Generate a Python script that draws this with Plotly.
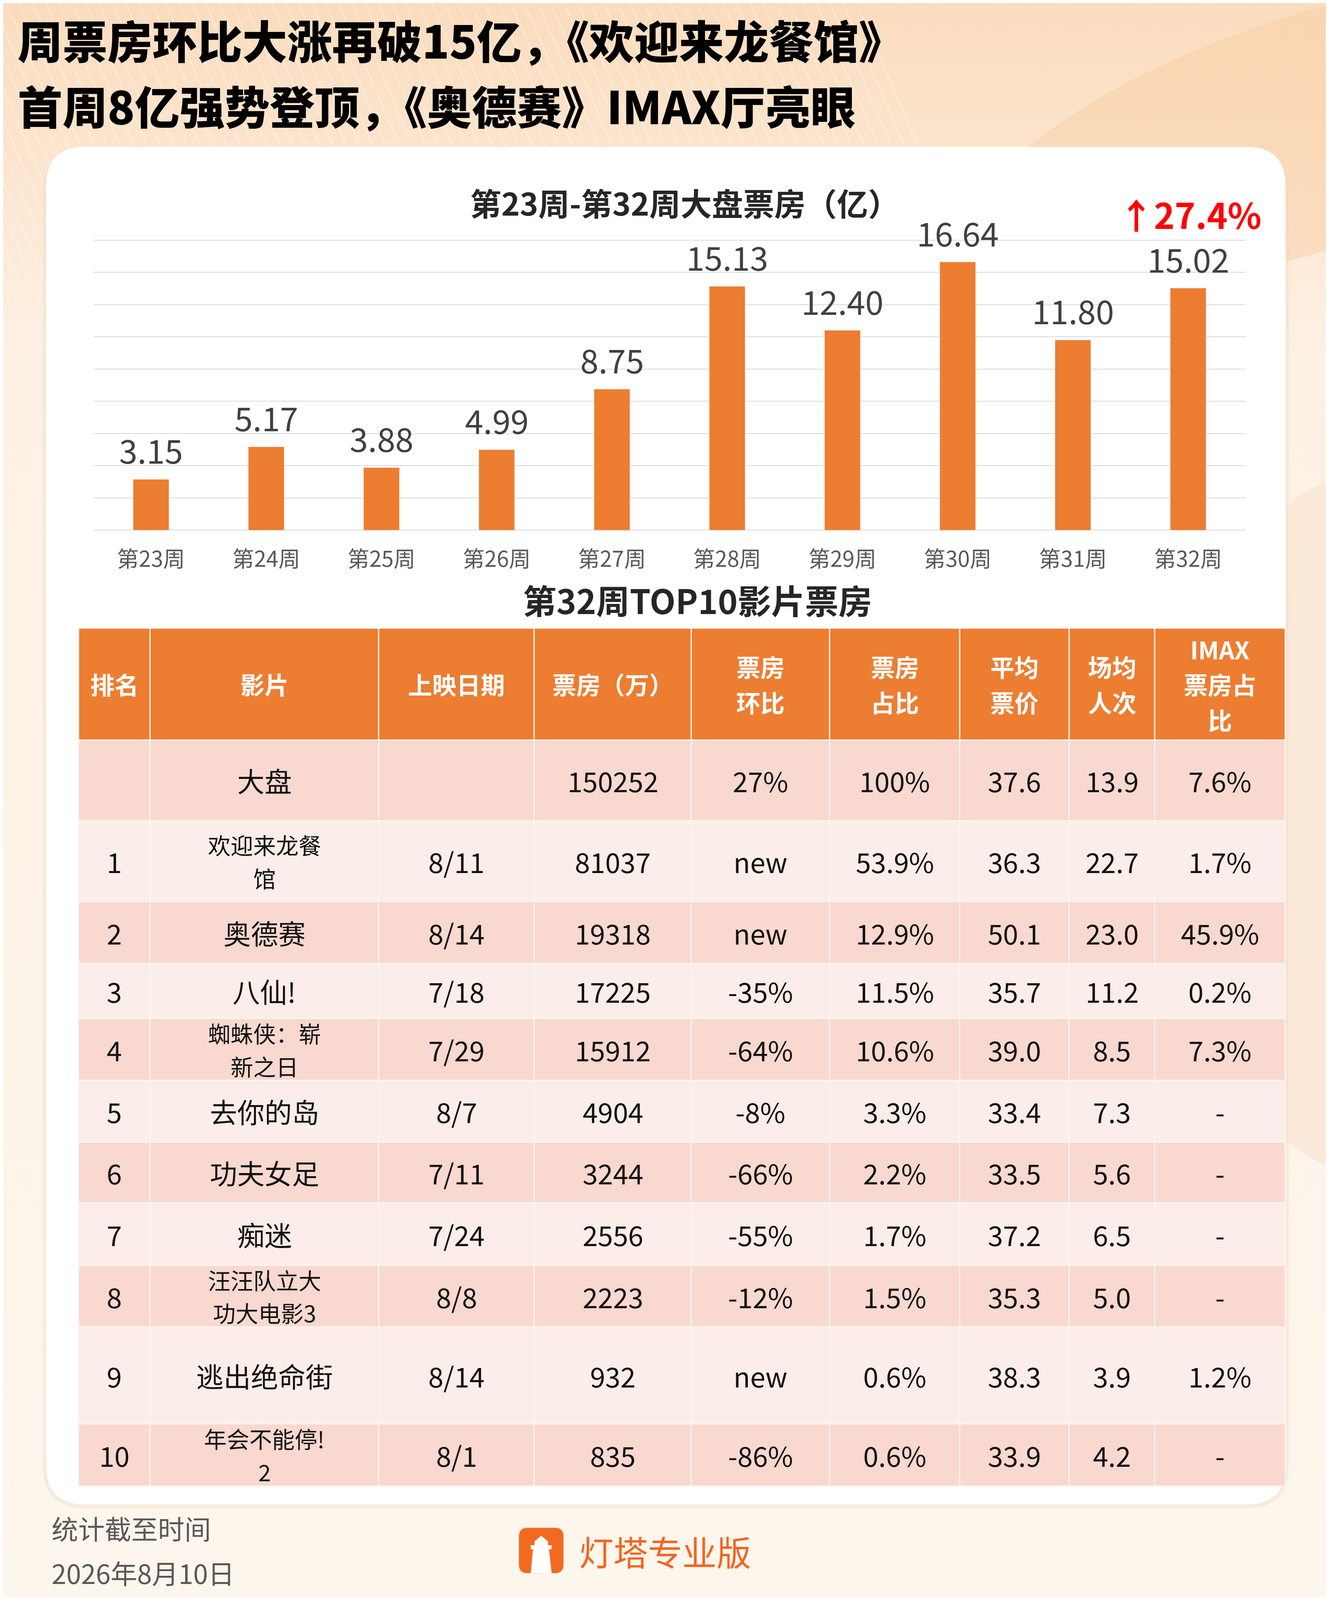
import base64
import plotly.graph_objects as go

# The browser only shows 3401 x 4096 px, so the 3401 x 6429 poster is laid out
# in reference pixels and its height is squeezed by S to keep everything visible.
REF_H = 6429
VIEW_H = 4096
S = VIEW_H / REF_H
W, H = 3385, 4080          # 8 px body margin on the page
FONT = "Noto Sans CJK SC"
LINE = 1.46                # line pitch (em) for stacked text lines

# ---- chart data ----
weeks = ["第23周", "第24周", "第25周", "第26周", "第27周", "第28周", "第29周", "第30周", "第31周", "第32周"]
weekly_box = [3.15, 5.17, 3.88, 4.99, 8.75, 15.13, 12.40, 16.64, 11.80, 15.02]
wow_growth = "27.4%"

# ---- table data ----
headers = [["排名"], ["影片"], ["上映日期"], ["票房（万）"], ["票房", "环比"], ["票房", "占比"],
           ["平均", "票价"], ["场均", "人次"], ["IMAX", "票房占", "比"]]
ranks = ["", "1", "2", "3", "4", "5", "6", "7", "8", "9", "10"]
films = ["大盘", "欢迎来龙餐馆", "奥德赛", "八仙!", "蜘蛛侠：崭新之日", "去你的岛",
         "功夫女足", "痴迷", "汪汪队立大功大电影3", "逃出绝命街", "年会不能停!2"]
release = ["", "8/11", "8/14", "7/18", "7/29", "8/7", "7/11", "7/24", "8/8", "8/14", "8/1"]
box_wan = [150252, 81037, 19318, 17225, 15912, 4904, 3244, 2556, 2223, 932, 835]
box_wow = ["27%", "new", "new", "-35%", "-64%", "-8%", "-66%", "-55%", "-12%", "new", "-86%"]
box_share = ["100%", "53.9%", "12.9%", "11.5%", "10.6%", "3.3%", "2.2%", "1.7%", "1.5%", "0.6%", "0.6%"]
avg_price = [37.6, 36.3, 50.1, 35.7, 39.0, 33.4, 33.5, 37.2, 35.3, 38.3, 33.9]
avg_people = [13.9, 22.7, 23.0, 11.2, 8.5, 7.3, 5.6, 6.5, 5.0, 3.9, 4.2]
imax_share = ["7.6%", "1.7%", "45.9%", "0.2%", "7.3%", "-", "-", "-", "-", "1.2%", "-"]

# layout (reference pixels)
col_edges = [201, 384, 969, 1367, 1769, 2123, 2456, 2736, 2955, 3289]
row_edges = [2524, 2974, 3298, 3623, 3872, 4092, 4341, 4589, 4833, 5084, 5332, 5721, 5971]


def fx(x):  # screen px -> paper
    return (x - 8) / W


def fy(y):
    return 1 - (y - 8) / H


def px(x):  # reference px -> paper
    return fx(x)


def py(y):
    return fy(y * S)


def wrap(name, limit=5.5):
    # break film names like the source table does (about 5 CJK chars per line)
    lines, cur, width = [], "", 0
    for ch in name:
        w = 0.5 if ord(ch) < 128 else 1
        if width + w > limit:
            lines.append(cur)
            cur, width = "", 0
        cur += ch
        width += w
    lines.append(cur)
    return lines


def rounded_rect(x0, y0, x1, y1, r):
    # corners in screen pixels
    rx, ry = r / W, r / H
    a, b, c, d = fx(x0), fy(y0), fx(x1), fy(y1)
    return (f"M{a + rx},{b} L{c - rx},{b} Q{c},{b} {c},{b - ry} "
            f"L{c},{d + ry} Q{c},{d} {c - rx},{d} L{a + rx},{d} "
            f"Q{a},{d} {a},{d + ry} L{a},{b - ry} Q{a},{b} {a + rx},{b} Z")


annotations = []


def text_block(x_ref, y_ref, lines, size, xanchor="center", **font):
    # one annotation per line so stacked lines never overlap
    yc = y_ref * S
    n = len(lines)
    for k, t in enumerate(lines):
        y = yc + (k - (n - 1) / 2) * size * LINE
        annotations.append(dict(x=px(x_ref), y=fy(y), xanchor=xanchor, text=t,
                                font=dict(family=FONT, size=size, **font)))


# background picture: peach gradient with light stripes at the top
stripes = "".join(
    f'<line x1="{x}" y1="0" x2="{x + 300}" y2="700" stroke="white" stroke-opacity="0.28" stroke-width="4"/>'
    for x in range(-400, 2200, 34)
)
svg = f'''<svg xmlns="http://www.w3.org/2000/svg" width="{W}" height="{H}" preserveAspectRatio="none">
<defs><linearGradient id="g" x1="0" y1="0" x2="0" y2="1">
<stop offset="0" stop-color="#FADCBD"/><stop offset="0.10" stop-color="#FCE5CF"/>
<stop offset="0.22" stop-color="#FDF1E4"/><stop offset="1" stop-color="#FDF6EC"/>
</linearGradient></defs>
<rect width="{W}" height="{H}" fill="url(#g)"/>
{stripes}
<ellipse cx="3350" cy="330" rx="900" ry="300" fill="#F8CBA0" fill-opacity="0.45" transform="rotate(-18 3350 330)"/>
<ellipse cx="3500" cy="2100" rx="500" ry="900" fill="#FAE0CC" fill-opacity="0.5"/>
</svg>'''
bg_src = "data:image/svg+xml;base64," + base64.b64encode(svg.encode("utf-8")).decode()

fig = go.Figure()

fig.add_trace(go.Bar(
    x=weeks,
    y=weekly_box,
    marker_color="#ED7D31",
    hoverinfo="x+y"
))

shapes = []
# card shadow + white card
shapes.append(dict(type="path", xref="paper", yref="paper", layer="below",
                   path=rounded_rect(110, 590 * S + 6, 3298, 6045 * S + 10, 110),
                   fillcolor="rgba(236,214,196,0.35)", line_width=0))
shapes.append(dict(type="path", xref="paper", yref="paper", layer="below",
                   path=rounded_rect(118, 590 * S, 3290, 6045 * S, 100),
                   fillcolor="white", line_width=0))

# value labels above the bars
for wk, v in zip(weeks, weekly_box):
    annotations.append(dict(xref="x", yref="y", x=wk, y=v, yanchor="bottom", yshift=14,
                            text=f"{v:.2f}",
                            font=dict(family=FONT, size=84, color="#404040")))

# table cells
row_fills = ["#F8D8CF", "#FBEDE9"]
for i in range(len(row_edges) - 1):
    fill = "#ED7D31" if i == 0 else row_fills[(i - 1) % 2]
    for j in range(len(col_edges) - 1):
        shapes.append(dict(type="rect", xref="paper", yref="paper", layer="below",
                           x0=px(col_edges[j]), x1=px(col_edges[j + 1]),
                           y0=py(row_edges[i]), y1=py(row_edges[i + 1]),
                           fillcolor=fill, line=dict(color="#FDF6EE", width=3)))

col_mid = [(col_edges[j] + col_edges[j + 1]) / 2 for j in range(len(col_edges) - 1)]

for j, h in enumerate(headers):
    text_block(col_mid[j], (row_edges[0] + row_edges[1]) / 2, h, 62,
               color="white", weight="bold")

for r in range(len(films)):
    cells = [ranks[r], films[r], release[r], str(box_wan[r]), box_wow[r],
             box_share[r], f"{avg_price[r]:.1f}", f"{avg_people[r]:.1f}", imax_share[r]]
    yc = (row_edges[r + 1] + row_edges[r + 2]) / 2
    for j, t in enumerate(cells):
        if not t:
            continue
        lines = wrap(t) if j == 1 else [t]
        text_block(col_mid[j], yc, lines, 70 if len(lines) == 1 else 58, color="#111111")

# logo mark (kept square, scaled around its centre)
lcx, lcy = 1385, 6230 * S


def logo_pt(a, b):
    return fx(lcx + (a - 1385) * S), fy(lcy + (b - 6237) * S)


shapes.append(dict(type="path", xref="paper", yref="paper", layer="below",
                   path=rounded_rect(lcx - 57, lcy - 58, lcx + 57, lcy + 58, 22),
                   fillcolor="#F26A21", line_width=0))
lighthouse = [(1385, 6178), (1412, 6200), (1412, 6216), (1427, 6216), (1427, 6232),
              (1416, 6232), (1427, 6328), (1343, 6328), (1352, 6232), (1343, 6232),
              (1343, 6216), (1358, 6216), (1358, 6200)]
shapes.append(dict(type="path", xref="paper", yref="paper", layer="below",
                   path="M" + " L".join("{},{}".format(*logo_pt(a, b)) for a, b in lighthouse) + " Z",
                   fillcolor="white", line_width=0))

# titles and notes
text_block(43, 157, ["周票房环比大涨再破15亿，《欢迎来龙餐馆》"], 115,
           xanchor="left", color="#000000", weight=900)
text_block(43, 421, ["首周8亿强势登顶，《奥德赛》IMAX厅亮眼"], 115,
           xanchor="left", color="#000000", weight=900)
text_block(1752, 812, ["第23周-第32周大盘票房（亿）"], 80, color="#262626", weight="bold")
text_block(3045, 858, ["↑" + wow_growth], 90, color="#FF0000", weight="bold")
text_block(1785, 2408, ["第32周TOP10影片票房"], 86, color="#262626", weight="bold")
text_block(130, 6140, ["统计截至时间"], 68, xanchor="left", color="#595959")
text_block(130, 6318, ["2026年8月10日"], 68, xanchor="left", color="#595959")
text_block(1480, 6230, ["灯塔专业版"], 88, xanchor="left", color="#F26522")

for a in annotations:
    a.setdefault("xref", "paper")
    a.setdefault("yref", "paper")
    a.setdefault("xanchor", "center")
    a.setdefault("yanchor", "middle")
    a.setdefault("showarrow", False)

fig.update_layout(
    width=W,
    height=H,
    margin=dict(l=0, r=0, t=0, b=0),
    showlegend=False,
    bargap=0.69,
    paper_bgcolor="#FDF6EC",
    plot_bgcolor="rgba(0,0,0,0)",
    images=[dict(source=bg_src, xref="paper", yref="paper", x=0, y=1,
                 sizex=1, sizey=1, sizing="stretch", layer="below",
                 xanchor="left", yanchor="top")],
    shapes=shapes,
    annotations=annotations,
    xaxis=dict(
        domain=[px(239), px(3188)],
        showgrid=False,
        showline=False,
        ticks="",
        tickfont=dict(family=FONT, size=56, color="#595959"),
        ticklabelstandoff=34
    ),
    yaxis=dict(
        domain=[py(2134), py(961)],
        range=[-0.06, 18.06],
        dtick=2,
        showgrid=True,
        gridcolor="#D9D9D9",
        gridwidth=2,
        zeroline=False,
        showticklabels=False
    ),
)

fig.write_html("out.html")
